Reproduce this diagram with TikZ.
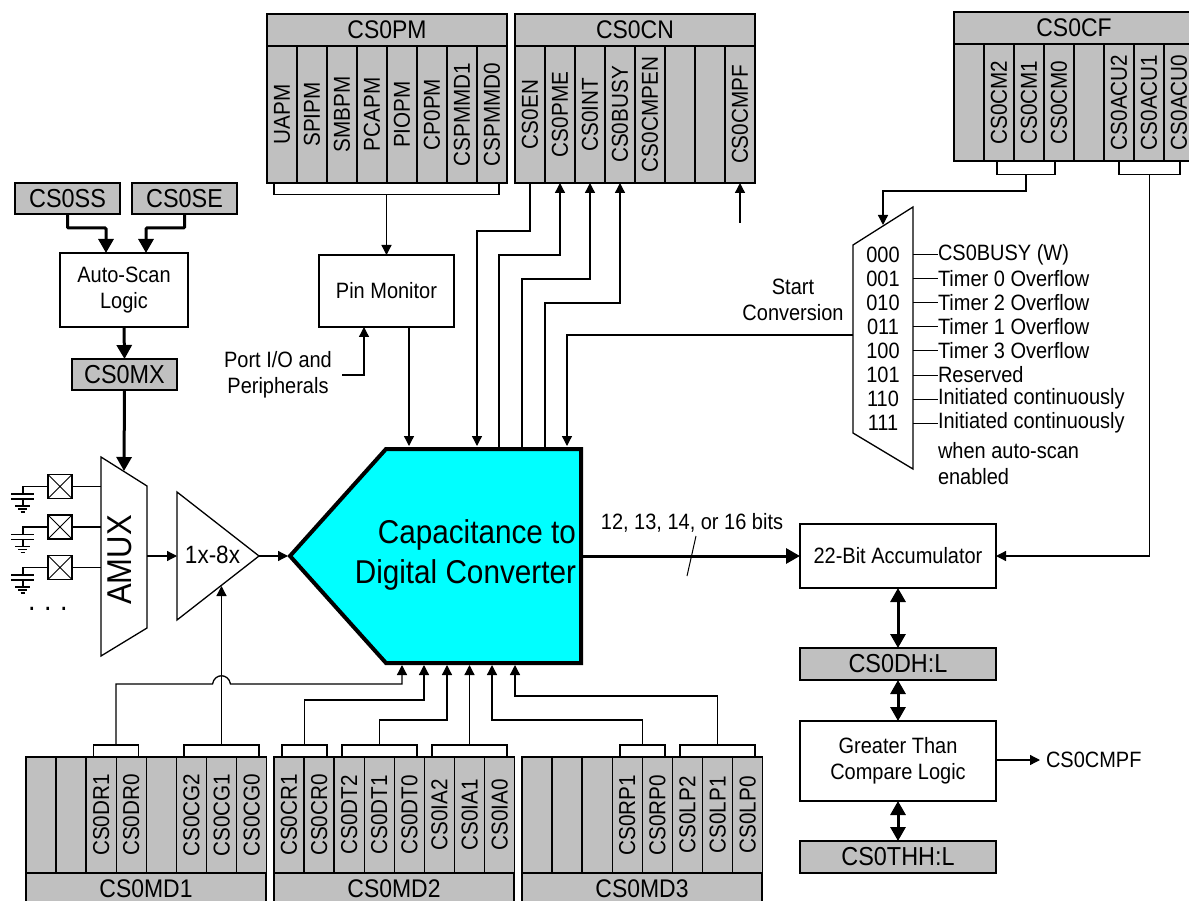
\documentclass[tikz,border=0pt]{standalone}
\usepackage{fontspec}
\setmainfont[FakeStretch=0.9]{Liberation Sans}
\usetikzlibrary{arrows.meta,calc}

\definecolor{regfill}{HTML}{C0C0C0}
\definecolor{cdcfill}{HTML}{00FFFF}
\newcommand{\txt}[1]{\fontsize{#1}{26}\selectfont}

\begin{document}
\begin{tikzpicture}[
    x=1pt, y=-1pt,
    line width=1.3pt,
    cell/.style={draw, fill=regfill, outer sep=0pt, inner sep=0pt, anchor=north west, minimum width=30pt, font=\txt{23}},
    regbar/.style={draw, fill=regfill, outer sep=0pt, inner sep=0pt, anchor=north west, minimum width=240pt, minimum height=32pt, font=\txt{25.5}},
    tagbox/.style={draw, fill=regfill, outer sep=0pt, inner sep=0pt, font=\txt{26}},
    box/.style={draw, fill=white, outer sep=0pt, inner sep=0pt, align=center, font=\txt{22.2}},
    brk/.style={draw, fill=white, outer sep=0pt, inner sep=0pt},
    lbl/.style={inner sep=0pt, outer sep=0pt, align=center, font=\txt{22.2}},
    arr/.style={-{Triangle[length=10pt,width=10pt]}},
    fat/.style={line width=3pt, -{Triangle[length=14pt,width=15pt]}},
    fatboth/.style={line width=3pt, {Triangle[length=14pt,width=15pt]}-{Triangle[length=14pt,width=15pt]}}
  ]
    \clip (0,0) rectangle (1189,901);

    %% ---- Top registers ----
    \node[regbar] (pmbar) at (267,14) {CS0PM};
    \foreach \lab [count=\i from 0] in {UAPM,SPIPM,SMBPM,PCAPM,PIOPM,CP0PM,CSPMMD1,CSPMMD0}
      \node[cell, minimum height=137pt] (pm\i) at (267+30*\i,46) {\rotatebox{90}{\lab}};

    \node[regbar] (cnbar) at (515,14) {CS0CN};
    \foreach \lab [count=\i from 0] in {CS0EN,CS0PME,CS0INT,CS0BUSY,CS0CMPEN,,,CS0CMPF}
      \node[cell, minimum height=137pt] (cn\i) at (515+30*\i,46) {\rotatebox{90}{\lab}};

    \node[regbar] (cfbar) at (954,12) {CS0CF};
    \foreach \lab [count=\i from 0] in {,CS0CM2,CS0CM1,CS0CM0,,CS0ACU2,CS0ACU1,CS0ACU0}
      \node[cell, minimum height=117pt] (cf\i) at (954+30*\i,44) {\rotatebox{90}{\lab}};

    %% ---- Bottom registers ----
    \foreach \lab [count=\i from 0] in {,,CS0DR1,CS0DR0,,CS0CG2,CS0CG1,CS0CG0}
      \node[cell, minimum height=116pt] (ma\i) at (26+30.1*\i,757) {\rotatebox{90}{\lab}};
    \node[regbar] (mabar) at (26,873) {CS0MD1};

    \foreach \lab [count=\i from 0] in {CS0CR1,CS0CR0,CS0DT2,CS0DT1,CS0DT0,CS0IA2,CS0IA1,CS0IA0}
      \node[cell, minimum height=116pt] (mb\i) at (274+30.1*\i,757) {\rotatebox{90}{\lab}};
    \node[regbar] (mbbar) at (274,873) {CS0MD2};

    \foreach \lab [count=\i from 0] in {,,,CS0RP1,CS0RP0,CS0LP2,CS0LP1,CS0LP0}
      \node[cell, minimum height=116pt] (mc\i) at (522+30.1*\i,757) {\rotatebox{90}{\lab}};
    \node[regbar] (mcbar) at (522,873) {CS0MD3};

    %% ---- Brackets on the registers ----
    \node[brk, minimum width=225pt, minimum height=11.5pt] (pmbr) at (386.5,188.75) {};
    \node[brk, minimum width=58pt, minimum height=13.5pt] (cmbr) at (1026,167.75) {};
    \node[brk, minimum width=61pt, minimum height=13.5pt] (acbr) at (1149.5,167.75) {};
    \node[brk, minimum width=45pt, minimum height=12pt] (drbr) at (116,751) {};
    \node[brk, minimum width=75pt, minimum height=12pt] (cgbr) at (221.5,751) {};
    \node[brk, minimum width=45pt, minimum height=12pt] (crbr) at (304.5,751) {};
    \node[brk, minimum width=75pt, minimum height=12pt] (dtbr) at (379.5,751) {};
    \node[brk, minimum width=75pt, minimum height=12pt] (iabr) at (469.5,751) {};
    \node[brk, minimum width=45pt, minimum height=12pt] (rpbr) at (642.5,751) {};
    \node[brk, minimum width=75pt, minimum height=12pt] (lpbr) at (717.5,751) {};

    %% ---- Auto-scan column ----
    \node[tagbox, minimum width=105pt, minimum height=31pt] (ss) at (67.5,198.5) {CS0SS};
    \node[tagbox, minimum width=105pt, minimum height=31pt] (se) at (184.5,198.5) {CS0SE};
    \node[box, minimum width=128pt, minimum height=74pt] (scan) at (124,290) {Auto-Scan\\Logic};
    \node[tagbox, minimum width=105pt, minimum height=31pt] (mx) at (124.5,374.5) {CS0MX};

    \coordinate (scanl) at (106,253);
    \coordinate (scanr) at (146,253);
    \draw[fat, rounded corners=1pt] (ss.south) -- ++(0,14) -| (scanl);
    \draw[fat, rounded corners=1pt] (se.south) -- ++(0,14) -| (scanr);
    \draw[fat] (scan.south) -- (mx.north);

    %% ---- AMUX and gain ----
    \draw[fill=white] (101,457) -- (147,486) -- (147,628) -- (101,656) -- cycle;
    \node[lbl, rotate=90, font=\txt{34.5}] (amuxlab) at (120,560) {AMUX};
    \coordinate (amuxin) at (124,471);
    \draw[fat] (mx.south) -- (amuxin);

    \draw[fill=white] (177,492) -- (259,556) coordinate (amptip) -- (177,620) -- cycle;
    \node[lbl, font=\txt{25}] (amplab) at (212.5,555) {1x-8x};
    \coordinate (amuxout) at (147,556);
    \coordinate (ampin) at (177,556);
    \coordinate (ampgain) at (221.5,586);
    \draw[arr] (amuxout) -- (ampin);

    %% input pads
    \foreach \n/\yy in {a/0,b/40.5,c/81} {
      \node[draw, fill=white, outer sep=0pt, inner sep=0pt, minimum width=24pt, minimum height=24pt] (pad\n) at (60,486.5+\yy) {};
      \draw[line width=0.8pt] (pad\n.north west) -- (pad\n.south east) (pad\n.north east) -- (pad\n.south west);
      \coordinate (muxin\n) at (101,486.5+\yy);
      \coordinate (capb\n) at (23,494+\yy);
      \coordinate (capc\n) at (23,499+\yy);
      \coordinate (capd\n) at (23,506+\yy);
      \draw (pad\n.east) -- (muxin\n);
      \draw (pad\n.west) -| (capb\n);
      \draw (capc\n) -- (capd\n);
      \draw ([xshift=-12pt]capb\n) -- ([xshift=11pt]capb\n) ([xshift=-12pt]capc\n) -- ([xshift=11pt]capc\n);
      \draw ([xshift=-8pt]capd\n) -- ([xshift=7pt]capd\n);
      \draw ([xshift=-5pt,yshift=-3pt]capd\n) -- ([xshift=4pt,yshift=-3pt]capd\n);
      \draw ([xshift=-2.5pt,yshift=-6pt]capd\n) -- ([xshift=1.5pt,yshift=-6pt]capd\n);
    }
    \node[lbl, font=\txt{30}] (dots) at (48,609) {.\hspace{8.5pt}.\hspace{8.5pt}.};

    %% ---- Converter ----
    \draw[line width=4pt, miter limit=10, fill=cdcfill] (290,556) -- (386,449) -- (581,449) -- (581,663) -- (386,663) -- cycle;
    \node[lbl, font=\txt{33}, align=right, anchor=east] (cdclab) at (576,555) {Capacitance to\\[8pt]Digital Converter};
    \coordinate (cdctip) at (288,556);
    \draw[arr] (amptip) -- (cdctip);

    %% top inputs and outputs
    \coordinate (cdca) at (409,446);
    \coordinate (cdcb) at (477,446);
    \coordinate (cdcc) at (499,447);
    \coordinate (cdcd) at (522,447);
    \coordinate (cdce) at (545,447);
    \coordinate (cdcf) at (567,446);
    %% bottom inputs
    \coordinate (cdcg) at (402,665);
    \coordinate (cdch) at (424,665);
    \coordinate (cdci) at (447,665);
    \coordinate (cdcj) at (470,665);
    \coordinate (cdck) at (492,665);
    \coordinate (cdcl) at (515,665);

    %% ---- Pin monitor ----
    \node[box, minimum width=135pt, minimum height=72pt] (pin) at (386.5,291) {Pin Monitor};
    \draw[arr] (pmbr.south) -- (pin.north);
    \draw[arr] (pin.south -| cdca) -- (cdca);
    \node[lbl] (port) at (278,375) {Port I/O and\\Peripherals};
    \coordinate (portout) at (342,375);
    \coordinate (pinin) at (364,327);
    \draw[arr] (portout) -| (pinin);

    %% ---- CS0CN connections ----
    \draw[arr] (cn0.south) -- ++(0,48) -| (cdcb);
    \draw[arr] (cdcc) |- ($(cn1.south)+(0,72)$) -- (cn1.south);
    \draw[arr] (cdcd) |- ($(cn2.south)+(0,96)$) -- (cn2.south);
    \draw[arr] (cdce) |- ($(cn3.south)+(0,120)$) -- (cn3.south);
    \coordinate (cmpfin) at (740,223);
    \draw[arr] (cmpfin) -- (cn7.south);

    %% ---- Start conversion mux ----
    \draw[fill=white] (853,245) -- (913,207) -- (913,469) -- (853,433) -- cycle;
    \coordinate (muxtop) at (883,225);
    \coordinate (muxw) at (853,335);
    \draw[arr] (cmbr.south) -- ++(0,16.5) -| (muxtop);
    \draw[arr] (muxw) -| (cdcf);
    \node[lbl] (startlab) at (793,299.5) {Start\\Conversion};

    \foreach \code/\what [count=\i from 0] in {000/CS0BUSY (W),001/Timer 0 Overflow,010/Timer 2 Overflow,011/Timer 1 Overflow,100/Timer 3 Overflow,101/Reserved,110/Initiated continuously,111/Initiated continuously} {
      \node[lbl] (code\i) at (883,255+24*\i) {\code};
      \node[lbl, anchor=west] (src\i) at (938,255+24*\i) {\what};
      \coordinate (muxr\i) at (913,255+24*\i);
      \draw[line width=1pt] (muxr\i) -- (src\i.west);
    }
    \node[lbl, anchor=west] (srcx) at (938,451) {when auto-scan};
    \node[lbl, anchor=west] (srcy) at (938,477) {enabled};

    %% ---- Output side ----
    \node[box, minimum width=196pt, minimum height=64pt] (acc) at (898,556) {22-Bit Accumulator};
    \node[tagbox, minimum width=196pt, minimum height=32pt] (dh) at (898,664) {CS0DH:L};
    \node[box, minimum width=196pt, minimum height=80pt] (cmp) at (898,761) {Greater Than\\Compare Logic};
    \node[tagbox, minimum width=196pt, minimum height=32pt] (thh) at (898,857) {CS0THH:L};
    \node[lbl, anchor=west] (cmpf) at (1046,760) {CS0CMPF};

    \coordinate (cdcout) at (583,556);
    \draw[fat] (cdcout) -- (acc.west);
    \node[lbl] (bits) at (692,523) {12, 13, 14, or 16 bits};
    \coordinate (slasha) at (687,576);
    \coordinate (slashb) at (696,536);
    \draw[line width=1pt] (slasha) -- (slashb);

    \draw[arr] (acbr.south) |- (acc.east);
    \draw[fatboth] (acc.south) -- (dh.north);
    \draw[fatboth] (dh.south) -- (cmp.north);
    \draw[fatboth] (cmp.south) -- (thh.north);
    \draw[arr, shorten >=6pt] (cmp.east |- cmpf) -- (cmpf.west);

    %% ---- Bottom connections ----
    \coordinate (hopa) at (212.5,684);
    \coordinate (hopb) at (230.5,684);
    \draw[arr] (cgbr.north) -- (ampgain);
    \draw[arr] (drbr.north) |- (hopa) .. controls (214.5,673) and (228.5,673) .. (hopb) -| (cdcg);
    \draw[arr] (crbr.north) -- ++(0,-45) -| (cdch);
    \draw[arr] (dtbr.north) -- ++(0,-25) -| (cdci);
    \draw[arr] (iabr.north) -- (iabr.north |- cdcj);
    \draw[arr] (rpbr.north) -- ++(0,-25) -| (cdck);
    \draw[arr] (lpbr.north) -- ++(0,-49) -| (cdcl);
  \end{tikzpicture}
\end{document}
